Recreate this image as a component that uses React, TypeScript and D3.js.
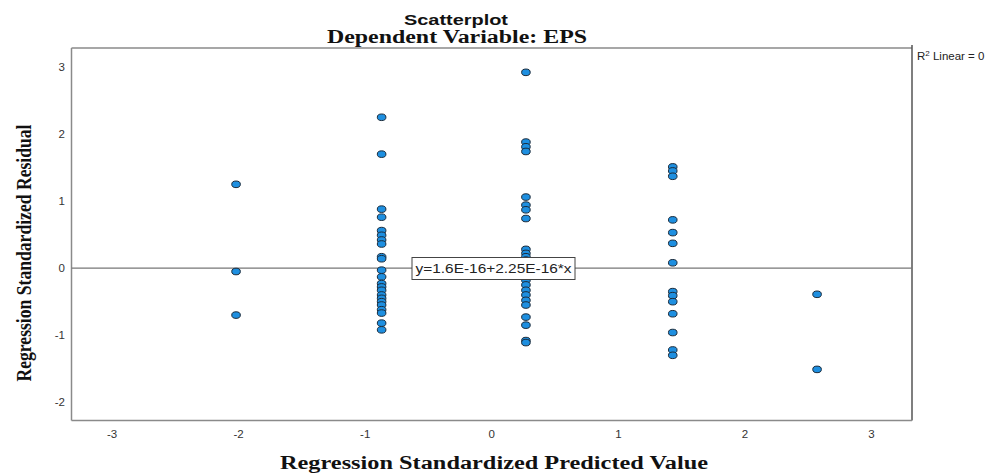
import React from "react";
import * as d3 from "d3";

const xTicks = [-3, -2, -1, 0, 1, 2, 3];
const yTicks = [-2, -1, 0, 1, 2, 3];

const predGroups = [-2.02, -0.87, 0.27, 1.43, 2.57];
const residGroupA = [1.25, -0.05, -0.7];
const residGroupB = [2.25, 1.7, 0.88, 0.76, 0.56, 0.49, 0.42, 0.36, 0.17, 0.14, -0.03, -0.13, -0.23, -0.28, -0.33, -0.4, -0.45, -0.5, -0.55, -0.62, -0.67, -0.82, -0.92];
const residGroupC = [2.92, 1.88, 1.81, 1.74, 1.06, 0.94, 0.87, 0.74, 0.28, 0.22, 0.17, 0.12, -0.02, -0.08, -0.18, -0.25, -0.33, -0.4, -0.48, -0.55, -0.73, -0.85, -1.08, -1.11];
const residGroupD = [1.51, 1.45, 1.37, 0.72, 0.53, 0.37, 0.08, -0.35, -0.41, -0.5, -0.68, -0.96, -1.22, -1.3];
const residGroupE = [-0.39, -1.51];
const residGroups = [residGroupA, residGroupB, residGroupC, residGroupD, residGroupE];

const fitIntercept = 1.6e-16;
const fitSlope = 2.25e-16;

export default function App() {
  const W = 1000, H = 473;
  const left = 71.5, right = 912, top = 48, bottom = 420.5;
  const x = d3.scaleLinear().domain([-3.32, 3.32]).range([left, right]);
  const y = d3.scaleLinear().domain([-2.272, 3.283]).range([bottom, top]);

  const points = predGroups.flatMap((px, i) => residGroups[i].map((r) => ({ px, r })));
  const sans = "'Liberation Sans', Arial, sans-serif";
  const serif = "'Liberation Serif', 'Times New Roman', serif";
  const axisGray = "#8a8a8a";
  const fitY = (v: number) => y(fitIntercept + fitSlope * v);

  return (
    <svg width={W} height={H} style={{ position: "absolute", left: 0, top: 0, background: "#fff" }}>
      <rect x={0} y={0} width={W} height={H} fill="#fff" />
      <text x={456} y={25} textAnchor="middle" fontFamily={sans} fontWeight="bold" fontSize={15.5} fill="#111"
        textLength={104} lengthAdjust="spacingAndGlyphs">Scatterplot</text>
      <text x={457} y={42.5} textAnchor="middle" fontFamily={serif} fontWeight="bold" fontSize={18.5} fill="#111"
        textLength={260} lengthAdjust="spacingAndGlyphs">Dependent Variable: EPS</text>

      {/* frame */}
      <line x1={left} x2={right} y1={top} y2={top} stroke={axisGray} strokeWidth={1.5} />
      <line x1={right} x2={right} y1={top - 3} y2={bottom} stroke="#555" strokeWidth={1.5} />
      <line x1={left} x2={left} y1={top} y2={bottom} stroke={axisGray} strokeWidth={1.5} />
      <line x1={left} x2={right} y1={bottom} y2={bottom} stroke={axisGray} strokeWidth={1.5} />

      {/* fit line */}
      <line x1={left} x2={right} y1={fitY(-3.32)} y2={fitY(3.32)} stroke="#777" strokeWidth={1.3} />

      {yTicks.map((t) => (
        <text key={"y" + t} x={65} y={y(t) + 4} textAnchor="end" fontFamily={sans} fontSize={11.5} fill="#333">{t}</text>
      ))}
      {xTicks.map((t) => (
        <text key={"x" + t} x={x(t)} y={438} textAnchor="middle" fontFamily={sans} fontSize={11.5} fill="#333">{t}</text>
      ))}

      {points.map((p, i) => (
        <ellipse key={i} cx={x(p.px)} cy={y(p.r)} rx={4.3} ry={3.3} fill="#1E8FE0" stroke="#1a2a3a" strokeWidth={1} />
      ))}

      {/* equation box */}
      <rect x={412} y={257.5} width={163} height={22} fill="#fff" stroke="#444" strokeWidth={1} />
      <text x={493.5} y={273} textAnchor="middle" fontFamily={sans} fontSize={13} fill="#222"
        textLength={156} lengthAdjust="spacingAndGlyphs">y=1.6E-16+2.25E-16*x</text>

      <text x={917} y={60} fontFamily={sans} fontSize={11.5} fill="#222">
        R<tspan dy={-4.5} fontSize={8}>2</tspan><tspan dy={4.5}> Linear = 0</tspan>
      </text>

      <text
        transform={`translate(31,${253}) rotate(-90)`}
        textAnchor="middle"
        fontFamily={serif}
        fontWeight="bold"
        fontSize={20}
        textLength={257}
        lengthAdjust="spacingAndGlyphs"
        fill="#111"
      >Regression Standardized Residual</text>

      <text x={494} y={469} textAnchor="middle" fontFamily={serif} fontWeight="bold" fontSize={18} fill="#111"
        textLength={428} lengthAdjust="spacingAndGlyphs">Regression Standardized Predicted Value</text>
    </svg>
  );
}
